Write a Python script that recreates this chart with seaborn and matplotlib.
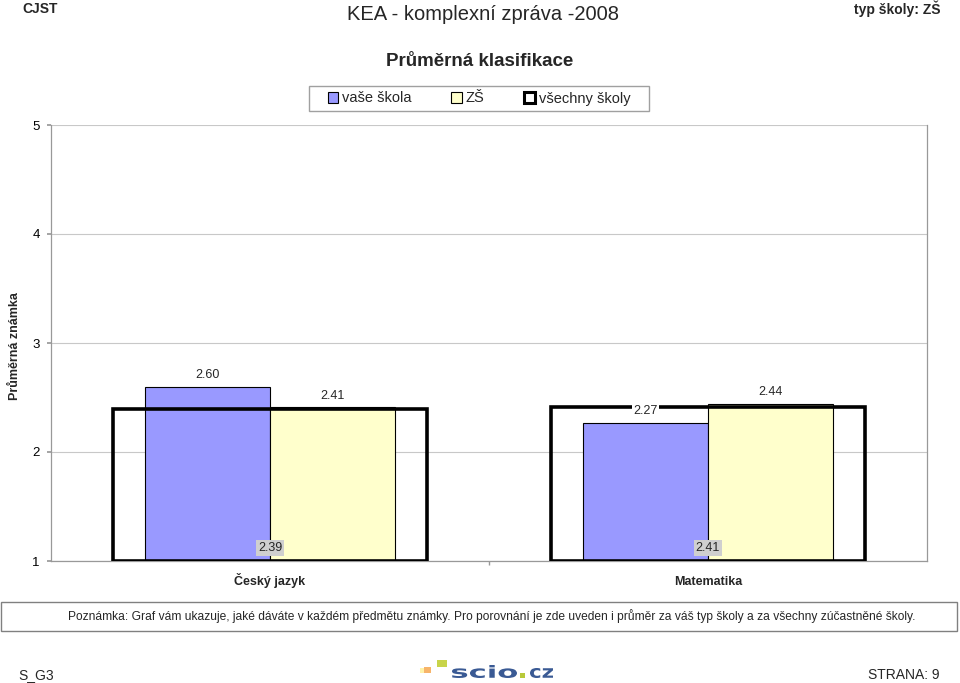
import matplotlib
matplotlib.use('Agg')
import matplotlib.pyplot as plt
import seaborn as sns
import pandas as pd
from matplotlib.patches import Patch, Rectangle, PathPatch
from matplotlib import font_manager
from matplotlib.font_manager import FontProperties
from matplotlib.textpath import TextPath
from matplotlib.transforms import Affine2D

# ---- data ----
subjects = ['Český jazyk', 'Matematika']
series_names = ['vaše škola', 'ZŠ', 'všechny školy']
vase_skola = [2.60, 2.27]
zs_values = [2.41, 2.44]
vsechny_skoly = [2.39, 2.41]
y_ticks = [1, 2, 3, 4, 5]

sns.set_theme(style='white')
names = {f.name for f in font_manager.fontManager.ttflist}
NARROW = 'Liberation Sans Narrow' if 'Liberation Sans Narrow' in names else 'Liberation Sans'
plt.rcParams['font.family'] = ['Liberation Sans', 'DejaVu Sans']

W, H = 960, 683
fig = plt.figure(figsize=(W / 100, H / 100), dpi=100)
fig.patch.set_facecolor('white')


def fx(px):
    return px / W


def fy(py):
    return 1 - py / H


ax = fig.add_axes([fx(51), fy(561), fx(927) - fx(51), fy(125) - fy(561)])
ax.set_facecolor('white')

df = pd.DataFrame({
    'subject': subjects * 2,
    'series': [series_names[0]] * 2 + [series_names[1]] * 2,
    'value': vase_skola + zs_values,
})
sns.barplot(data=df, x='subject', y='value', hue='series',
            palette=['#9999ff', '#ffffcc'], saturation=1, width=0.57,
            edgecolor='black', linewidth=0.8, errorbar=None, legend=False, ax=ax)

df_all = pd.DataFrame({'subject': subjects, 'value': vsechny_skoly})
n_before = len(ax.patches)
sns.barplot(data=df_all, x='subject', y='value', width=0.717, fill=False,
            color='black', linewidth=2.6, errorbar=None, ax=ax)
hollow = ax.patches[n_before:]
for p in hollow:
    p.set_y(1)
    p.set_height(p.get_height() - 1)
    p.set_zorder(5)

ax.set_ylim(1, 5)
ax.set_xlim(-0.5, 1.5)
ax.set_yticks(y_ticks)
ax.set_xlabel('')
ax.set_ylabel('')

# value labels
c_vase, c_zs = ax.containers[0], ax.containers[1]
for t in ax.bar_label(c_vase, fmt='%.2f', padding=4, fontsize=9):
    t.set_bbox(dict(facecolor='white', edgecolor='none', pad=1))
    t.set_zorder(6)
for t in ax.bar_label(c_zs, fmt='%.2f', padding=4, fontsize=9):
    t.set_zorder(6)
for p, v in zip(hollow, vsechny_skoly):
    ax.text(p.get_x() + p.get_width() / 2, 1.12, f'{v:.2f}', ha='center', va='center',
            fontsize=9, zorder=7,
            bbox=dict(facecolor='#cfcfcf', edgecolor='none', pad=1.5))

# axes styling
ax.yaxis.grid(True, color='#c8c8c8', linewidth=0.8)
ax.set_axisbelow(True)
for s in ['left', 'bottom', 'right']:
    ax.spines[s].set_color('#999999')
    ax.spines[s].set_linewidth(0.9)
ax.spines['top'].set_visible(False)
ax.tick_params(axis='y', left=True, length=3, color='#999999', labelsize=9.5, pad=5, labelcolor='black')
ax.set_xticks([0, 1])
ax.set_xticklabels(subjects, fontweight='bold', fontsize=9, va='baseline')
ax.tick_params(axis='x', which='major', length=0, pad=17)
ax.set_xticks([0.5], minor=True)
ax.tick_params(axis='x', which='minor', bottom=True, length=3, color='#999999')

fig.text(fx(15), fy(346), 'Průměrná známka', rotation=90, ha='center', va='center',
         fontsize=9, fontweight='bold')

# header
fig.text(fx(22), fy(9), 'CJST', ha='left', va='center', fontsize=10, fontweight='bold', family=NARROW)
fig.text(fx(483), fy(14), 'KEA - komplexní zpráva -2008', ha='center', va='center', fontsize=14.5, family=NARROW)
fig.text(fx(940), fy(9), 'typ školy: ZŠ', ha='right', va='center', fontsize=10, fontweight='bold', family=NARROW)
fig.text(fx(480), fy(62), 'Průměrná klasifikace', ha='center', va='center', fontsize=13.5, fontweight='bold')

# legend (frame drawn separately)
fig.patches.append(Rectangle((fx(309), fy(111)), fx(649) - fx(309), fy(86) - fy(111),
                             transform=fig.transFigure, fill=False, edgecolor='#a0a0a0', linewidth=1.0))
handles = [Patch(facecolor='#9999ff', edgecolor='black', linewidth=0.8),
           Patch(facecolor='#ffffcc', edgecolor='black', linewidth=0.8),
           Patch(facecolor='white', edgecolor='black', linewidth=2.2)]
leg = fig.legend(handles=handles, labels=series_names, ncol=3, loc='center',
                 bbox_to_anchor=(fx(479), fy(98.5)), frameon=False,
                 handlelength=0.72, handleheight=0.72,
                 handletextpad=0.25, columnspacing=2.75, fontsize=10.5, borderpad=0.2)

# note box
fig.patches.append(Rectangle((fx(1), fy(631)), fx(957) - fx(1), fy(602) - fy(631),
                             transform=fig.transFigure, fill=False, edgecolor='#808080', linewidth=1.0))
fig.text(fx(492), fy(616),
         'Poznámka: Graf vám ukazuje, jaké dáváte v každém předmětu známky. Pro porovnání je zde uveden i průměr za váš typ školy a za všechny zúčastněné školy.',
         ha='center', va='center', fontsize=8.65, family=NARROW)

# footer
fig.text(fx(18), fy(675), 'S_G3', ha='left', va='center', fontsize=10, family=NARROW)
fig.text(fx(940), fy(675), 'STRANA: 9', ha='right', va='center', fontsize=10, family=NARROW)

# logo
for (x0, y0, w, h, c) in [(420, 673, 4, 5, '#fff2a8'), (424, 673, 7, 6, '#f7b46a'), (437, 667, 10, 7, '#c8d44a')]:
    fig.patches.append(Rectangle((fx(x0), fy(y0)), fx(w), h / H, transform=fig.transFigure,
                                 facecolor=c, edgecolor='none'))


def logo_word(s, x0, x1, ytop, ybot, color):
    tp = TextPath((0, 0), s, size=10, prop=FontProperties(family='DejaVu Sans', weight='bold'))
    ext = tp.get_extents()
    sx = (x1 - x0) / ext.width / W
    sy = (ybot - ytop) / ext.height / H
    tr = Affine2D().translate(-ext.x0, -ext.y0).scale(sx, sy).translate(fx(x0), fy(ybot)) + fig.transFigure
    fig.patches.append(PathPatch(tp, transform=tr, facecolor=color, edgecolor='none'))


logo_word('scio', 452, 517, 665, 678, '#3a5a94')
logo_word('cz', 530, 553, 668, 678, '#3a5a94')
fig.patches.append(Rectangle((fx(520), fy(678)), fx(5), 5 / H, transform=fig.transFigure,
                             facecolor='#b8c93a', edgecolor='none'))

fig.savefig('out.png', dpi=100, facecolor='white')
